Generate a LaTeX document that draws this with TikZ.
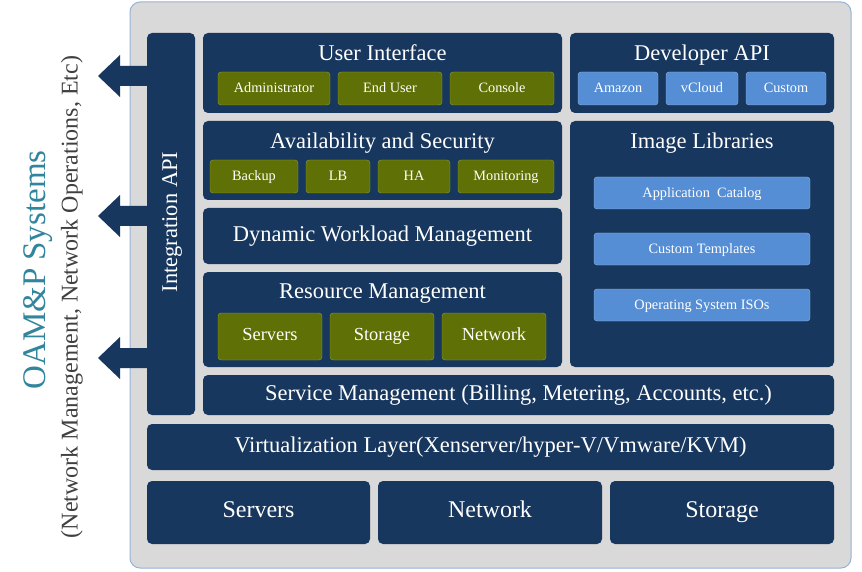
\documentclass[tikz,border=0pt]{standalone}
\usepackage{fontspec}
\setmainfont{Liberation Serif}
\begin{document}
\begin{tikzpicture}[x=1pt,y=-1pt,
  box/.style={draw=none,fill=dkb,rounded corners=5pt},
  olv/.style={draw=olb,fill=olive1,rounded corners=3pt},
  lb/.style={draw=lbb,fill=lblue,rounded corners=3pt},
  tt/.style={text=white,font=\fontsize{22.5}{26}\selectfont,text height=0.7em,text depth=0.22em,yshift=-3pt},
  bt/.style={text=white,font=\fontsize{14.3}{16}\selectfont,text height=0.7em,text depth=0.22em,yshift=-2pt},
  arr/.style={fill=dkb,draw=none}]
\definecolor{dkb}{HTML}{17375E}
\definecolor{olive1}{HTML}{5F7106}
\definecolor{olb}{HTML}{8EA03A}
\definecolor{lblue}{HTML}{558ED5}
\definecolor{lbb}{HTML}{95B3D7}
\definecolor{teal1}{HTML}{31859C}
\useasboundingbox (0,0) rectangle (862,572);
\fill[white] (0,0) rectangle (862,572);
\node[draw=lbb,fill=black!15,rounded corners=10pt,line width=1pt,minimum width=721pt,minimum height=566pt,inner sep=0pt] (outer) at (490.5,285) {};
\newcommand{\bx}[6]{\node[#1,minimum width=#4-#2,minimum height=#5-#3,inner sep=0pt] (#6) at ({(#2+#4)/2},{(#3+#5)/2}) {};}
\bx{box}{147}{33}{195}{415}{iapi}
\node[text=white,font=\fontsize{22.5}{26}\selectfont,rotate=90] (iapit) at (172,222) {Integration API};
\bx{box}{203}{33}{562}{113}{ui}
\node[tt] (uit) at (382.5,55) {User Interface};
\bx{box}{570}{33}{834}{113}{dev}
\node[tt] (devt) at (702,55) {Developer API};
\bx{box}{203}{121}{562}{200}{av}
\node[tt] (avt) at (382.5,143) {Availability and Security};
\bx{box}{570}{121}{834}{367}{img}
\node[tt] (imgt) at (702,143) {Image Libraries};
\bx{box}{203}{208}{562}{264}{dyn}
\node[tt] (dynt) at (dyn.center) {Dynamic Workload Management};
\bx{box}{203}{272}{562}{367}{res}
\node[tt] (rest) at (382.5,293) {Resource Management};
\bx{box}{203}{375}{834}{415}{svc}
\node[tt] (svct) at (svc.center) {Service Management (Billing, Metering, Accounts, etc.)};
\bx{box}{147}{424}{834}{470}{virt}
\node[tt] (virtt) at (virt.center) {Virtualization Layer(Xenserver/hyper-V/Vmware/KVM)};
\bx{box}{147}{481}{370}{544}{bs}
\node[tt,font=\fontsize{24}{26}\selectfont] (bst) at (bs.center) {Servers};
\bx{box}{378}{481}{602}{544}{bn}
\node[tt,font=\fontsize{24}{26}\selectfont] (bnt) at (bn.center) {Network};
\bx{box}{610}{481}{834}{544}{bst2}
\node[tt,font=\fontsize{24}{26}\selectfont] (bstt) at (bst2.center) {Storage};
\bx{olv}{218}{72}{330}{105}{b1}\node[bt] at (b1) {Administrator};
\bx{olv}{338}{72}{442}{105}{b2}\node[bt] at (b2) {End User};
\bx{olv}{450}{72}{554}{105}{b3}\node[bt] at (b3) {Console};
\bx{lb}{578}{72}{658}{105}{d1}\node[bt] at (d1) {Amazon};
\bx{lb}{666}{72}{738}{105}{d2}\node[bt] at (d2) {vCloud};
\bx{lb}{746}{72}{826}{105}{d3}\node[bt] at (d3) {Custom};
\bx{olv}{210}{160}{298}{193}{a1}\node[bt] at (a1) {Backup};
\bx{olv}{306}{160}{370}{193}{a2}\node[bt] at (a2) {LB};
\bx{olv}{378}{160}{450}{193}{a3}\node[bt] at (a3) {HA};
\bx{olv}{458}{160}{554}{193}{a4}\node[bt] at (a4) {Monitoring};
\bx{lb}{594}{177}{810}{209}{i1}\node[bt] at (i1) {Application\ \ Catalog};
\bx{lb}{594}{233}{810}{265}{i2}\node[bt] at (i2) {Custom Templates};
\bx{lb}{594}{289}{810}{321}{i3}\node[bt] at (i3) {Operating System ISOs};
\bx{olv}{218}{313}{322}{360}{r1}\node[bt,font=\fontsize{18.4}{20}\selectfont] at (r1) {Servers};
\bx{olv}{330}{313}{434}{360}{r2}\node[bt,font=\fontsize{18.4}{20}\selectfont] at (r2) {Storage};
\bx{olv}{442}{313}{546}{360}{r3}\node[bt,font=\fontsize{18.4}{20}\selectfont] at (r3) {Network};
\foreach \y in {76,216,358}{
  \fill[arr] (147,\y-10) -- (120,\y-10) -- (120,\y-21) -- (98,\y) -- (120,\y+21) -- (120,\y+10) -- (147,\y+10) -- cycle;}
\node[rotate=90,text=teal1,font=\fontsize{33}{36}\selectfont] (oam) at (38,270) {OAM\&P Systems};
\node[rotate=90,text=black!75,font=\fontsize{24}{26}\selectfont] (oam2) at (72,297) {(Network Management, Network Operations, Etc)};
\end{tikzpicture}
\end{document}
